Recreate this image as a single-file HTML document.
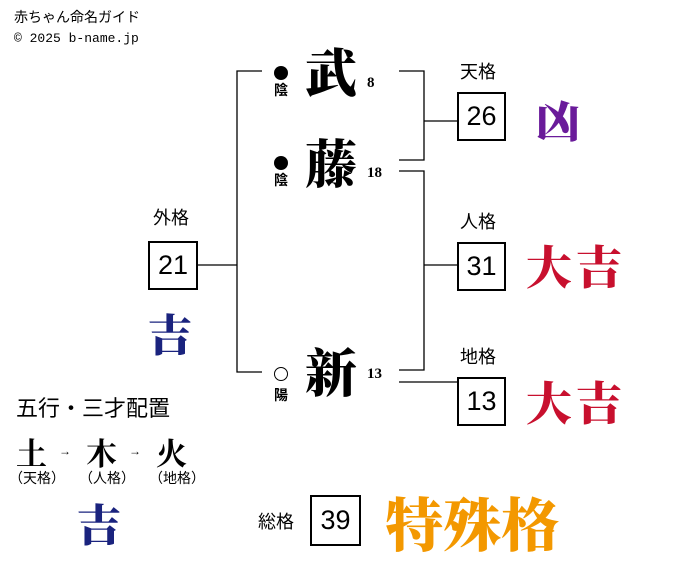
<!DOCTYPE html><html><head><meta charset="utf-8"><style>
body{margin:0;width:676px;height:562px;background:#fff;position:relative;overflow:hidden;font-family:"Liberation Sans","Noto Sans CJK JP",sans-serif;color:#000}
.a{position:absolute;white-space:nowrap;line-height:1}
.box{position:absolute;border:2px solid #000;box-sizing:border-box;font-size:27px;display:flex;align-items:center;justify-content:center}
.k{font-family:"Noto Serif CJK SC","Liberation Serif",serif;font-weight:900;font-size:52px}
.n{font-family:"Liberation Serif",serif;font-weight:bold;font-size:15px}
.f{font-family:"Noto Serif CJK SC",serif;font-weight:900}
.l{font-size:18px}
.dot{position:absolute;width:14px;height:14px;border-radius:50%;background:#000;box-sizing:border-box}
.o{background:#fff;border:1.5px solid #000}
.y{position:absolute;font-size:14px;font-weight:bold;line-height:1}
</style></head><body>
<div class="a" style="left:14px;top:10px;font-size:14px">赤ちゃん命名ガイド</div>
<div class="a" style="left:14px;top:32px;font-size:13px;font-family:'Liberation Mono','Noto Sans CJK JP',monospace">© 2025 b-name.jp</div>
<svg width="676" height="562" style="position:absolute;left:0;top:0" stroke="#000" stroke-width="1.3" fill="none">
<path d="M262 71H237V372H262M197 265H237"/>
<path d="M399 71H424V160H399M424 121H457"/>
<path d="M399 171H424V370H399M424 265H457"/>
<path d="M399 382H457"/>
</svg>
<div class="dot" style="left:274px;top:66px"></div>
<div class="y" style="left:274px;top:83px">陰</div>
<div class="dot" style="left:274px;top:156px"></div>
<div class="y" style="left:274px;top:173px">陰</div>
<div class="dot o" style="left:274px;top:367px"></div>
<div class="y" style="left:274px;top:388px">陽</div>
<div class="a k" style="left:305px;top:44px">武</div>
<div class="a k" style="left:305px;top:135px">藤</div>
<div class="a k" style="left:305px;top:344px">新</div>
<div class="a n" style="left:367px;top:76px">8</div>
<div class="a n" style="left:367px;top:166px">18</div>
<div class="a n" style="left:367px;top:367px">13</div>
<div class="a l" style="left:460px;top:63px">天格</div>
<div class="box" style="left:457px;top:92px;width:49px;height:49px">26</div>
<div class="a l" style="left:460px;top:213px">人格</div>
<div class="box" style="left:457px;top:242px;width:49px;height:49px">31</div>
<div class="a l" style="left:460px;top:348px">地格</div>
<div class="box" style="left:457px;top:377px;width:49px;height:49px">13</div>
<div class="a l" style="left:153px;top:209px">外格</div>
<div class="box" style="left:148px;top:241px;width:50px;height:49px">21</div>
<div class="a l" style="left:258px;top:513px">総格</div>
<div class="box" style="left:310px;top:495px;width:51px;height:51px">39</div>
<div class="a f" style="left:536px;top:96px;font-size:44px;color:#6a1b9a">凶</div>
<div class="a f" style="left:526px;top:242px;font-size:46px;color:#c8102e;letter-spacing:4px">大吉</div>
<div class="a f" style="left:526px;top:378px;font-size:46px;color:#c8102e;letter-spacing:4px">大吉</div>
<div class="a f" style="left:148px;top:310px;font-size:44px;color:#1a237e">吉</div>
<div class="a f" style="left:385px;top:492px;font-size:58px;color:#f39800">特殊格</div>
<div class="a" style="left:16px;top:398px;font-size:22px">五行・三才配置</div>
<div class="a" style="left:16px;top:436px;font-size:31px;font-weight:bold;font-family:'Noto Serif CJK SC',serif">土</div>
<div class="a" style="left:59px;top:445px;font-size:12px">→</div>
<div class="a" style="left:86px;top:436px;font-size:31px;font-weight:bold;font-family:'Noto Serif CJK SC',serif">木</div>
<div class="a" style="left:129px;top:445px;font-size:12px">→</div>
<div class="a" style="left:156px;top:436px;font-size:31px;font-weight:bold;font-family:'Noto Serif CJK SC',serif">火</div>
<div class="a" style="left:9px;top:471px;font-size:14px">（天格）</div>
<div class="a" style="left:79px;top:471px;font-size:14px">（人格）</div>
<div class="a" style="left:149px;top:471px;font-size:14px">（地格）</div>
<div class="a f" style="left:77px;top:500px;font-size:44px;color:#1a237e">吉</div>
</body></html>
